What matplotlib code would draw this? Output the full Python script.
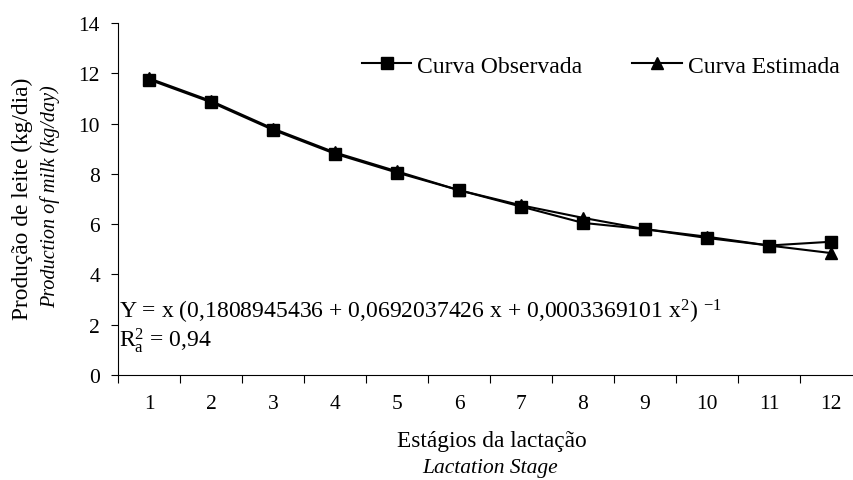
import numpy as np
import matplotlib
matplotlib.use("Agg")
import matplotlib.pyplot as plt
from matplotlib.ticker import FixedLocator

plt.rcParams["font.family"] = "Liberation Serif"
plt.rcParams["mathtext.fontset"] = "custom"
plt.rcParams["mathtext.rm"] = "Liberation Serif"
plt.rcParams["mathtext.it"] = "Liberation Serif:italic"

stages = [1, 2, 3, 4, 5, 6, 7, 8, 9, 10, 11, 12]
observed = [11.75, 10.85, 9.75, 8.8, 8.05, 7.35, 6.7, 6.05, 5.8, 5.45, 5.15, 5.3]
estimated = [11.8, 10.9, 9.8, 8.85, 8.1, 7.35, 6.75, 6.25, 5.8, 5.5, 5.15, 4.85]
y_ticks = [0, 2, 4, 6, 8, 10, 12, 14]

fig = plt.figure(figsize=(8.54, 4.81), dpi=100)
ax = fig.add_axes([0.1382, 0.2183, 0.8618, 0.7318])

x = np.array(stages)
ax.plot(x, observed, color="black", lw=1.5, marker="s", markersize=9,
        label="Curva Observada", clip_on=False, zorder=3)
ax.plot(x, estimated, color="black", lw=1.5, marker="^", markersize=9,
        label="Curva Estimada", clip_on=False, zorder=3)

ax.set_xlim(0.5, 0.5 + 736 / 62)
ax.set_ylim(0, 14)
ax.set_yticks(y_ticks)
ax.tick_params(axis="y", labelsize=15.5, direction="out", length=5, width=0.8, pad=8)

ax.set_xticks(stages)
ax.tick_params(axis="x", which="major", length=0, labelsize=15.5, pad=14)
ax.xaxis.set_minor_locator(FixedLocator(np.arange(0.5, 12.5, 1)))
ax.tick_params(axis="x", which="minor", direction="out", length=6, width=0.8)

for s in ["top", "right"]:
    ax.spines[s].set_visible(False)
ax.spines["left"].set_linewidth(0.8)
ax.spines["bottom"].set_linewidth(0.8)

# axis titles (Portuguese + English italic)
fig.text(0.026, 0.586, "Produção de leite (kg/dia)", rotation=90,
         ha="center", va="center", fontsize=16.8)
fig.text(0.059, 0.592, "Production of milk (kg/day)", rotation=90,
         ha="center", va="center", fontsize=14.5, style="italic")
fig.text(0.576, 0.083, "Estágios da lactação", ha="center", va="center", fontsize=16.8)
fig.text(0.574, 0.025, "Lactation Stage", ha="center", va="center",
         fontsize=15.5, style="italic")

ax.text(0.52, 2.55,
        r"Y = x (0,1808945436 + 0,0692037426 x + 0,0003369101 x$^{2}$) $^{\mathrm{-1}}$",
        fontsize=17, ha="left", va="center")
ax.text(0.52, 1.4, r"R$^{2}_{\mathrm{a}}$ = 0,94", fontsize=17, ha="left", va="center")

ax.legend(loc="center right", bbox_to_anchor=(0.98, 0.878), ncol=2, frameon=False,
          fontsize=17, handlelength=2.1, handletextpad=0.25, columnspacing=2.1,
          borderaxespad=0, borderpad=0)

fig.savefig("out.png", dpi=100)
